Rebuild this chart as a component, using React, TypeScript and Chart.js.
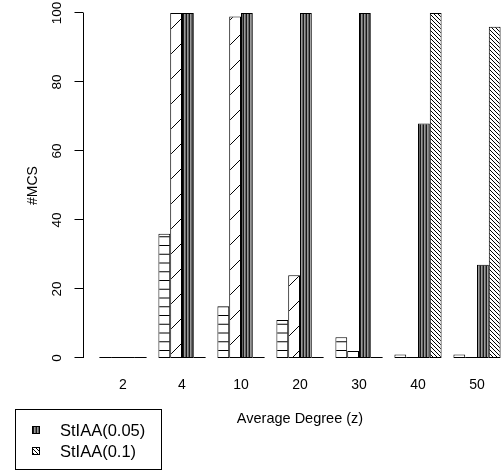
import React, { useEffect, useRef } from 'react';
import { Chart, registerables } from 'chart.js';

Chart.register(...registerables);

const categories = ['2', '4', '10', '20', '30', '40', '50'];
const seriesHoriz = [0, 36, 15, 11, 6, 1, 1];
const seriesSlash = [0, 100, 99, 24, 2, 0, 0];
const stiaa005 = [0, 100, 100, 100, 100, 68, 27];
const stiaa01 = [0, 0, 0, 0, 0, 100, 96];
const yTicks = [0, 20, 40, 60, 80, 100];
const legendLabels = ['StIAA(0.05)', 'StIAA(0.1)'];
const xTitle = 'Average Degree (z)';
const yTitle = '#MCS';

const FONT = '"Liberation Sans", Arial, Helvetica, sans-serif';

function makeTile(w: number, h: number, draw: (c: CanvasRenderingContext2D) => void): CanvasPattern {
  const cv = document.createElement('canvas');
  cv.width = w;
  cv.height = h;
  const c = cv.getContext('2d')!;
  draw(c);
  const ctx = document.createElement('canvas').getContext('2d')!;
  return ctx.createPattern(cv, 'repeat')!;
}

function makePatterns() {
  const hlines = makeTile(4, 35, (c) => {
    c.fillStyle = '#fff';
    c.fillRect(0, 0, 4, 35);
    c.strokeStyle = '#000';
    c.lineWidth = 1;
    for (let i = 0; i < 4; i++) {
      const y = i * 8.75 + 0.5;
      c.beginPath();
      c.moveTo(0, y);
      c.lineTo(4, y);
      c.stroke();
    }
  });
  const slash = makeTile(25, 25, (c) => {
    c.fillStyle = '#fff';
    c.fillRect(0, 0, 25, 25);
    c.strokeStyle = '#000';
    c.lineWidth = 1;
    c.beginPath();
    c.moveTo(-2, 27);
    c.lineTo(27, -2);
    c.moveTo(-2, 2);
    c.lineTo(2, -2);
    c.moveTo(23, 27);
    c.lineTo(27, 23);
    c.stroke();
  });
  const vlines = makeTile(3, 1, (c) => {
    c.fillStyle = '#1a1a1a';
    c.fillRect(0, 0, 1, 1);
    c.fillStyle = '#9a9a9a';
    c.fillRect(1, 0, 1, 1);
    c.fillStyle = '#666';
    c.fillRect(2, 0, 1, 1);
  });
  const bslash = makeTile(4, 4, (c) => {
    c.fillStyle = '#fff';
    c.fillRect(0, 0, 4, 4);
    c.strokeStyle = '#000';
    c.lineWidth = 1;
    c.beginPath();
    c.moveTo(-1, -1);
    c.lineTo(5, 5);
    c.moveTo(3, -1);
    c.lineTo(5, 1);
    c.moveTo(-1, 3);
    c.lineTo(1, 5);
    c.stroke();
  });
  return { hlines, slash, vlines, bslash };
}

export default function App() {
  const ref = useRef<HTMLCanvasElement>(null);

  useEffect(() => {
    const canvas = ref.current!;
    const p = makePatterns();

    const overlay = {
      id: 'rStyle',
      afterDatasetsDraw(chart: any) {
        const ctx: CanvasRenderingContext2D = chart.ctx;
        const yScale = chart.scales.y;
        const xScale = chart.scales.x;
        ctx.save();
        // zero-height bars drawn as a line
        ctx.strokeStyle = '#000';
        ctx.lineWidth = 1;
        chart.data.datasets.forEach((ds: any, di: number) => {
          const meta = chart.getDatasetMeta(di);
          meta.data.forEach((el: any, i: number) => {
            if (ds.data[i] === 0) {
              const y = Math.round(yScale.getPixelForValue(0)) - 0.5;
              ctx.beginPath();
              ctx.moveTo(el.x - el.width / 2, y);
              ctx.lineTo(el.x + el.width / 2, y);
              ctx.stroke();
            }
          });
        });

        // y axis
        const axX = 83.5;
        const y0 = yScale.getPixelForValue(yTicks[0]);
        const y1 = yScale.getPixelForValue(yTicks[yTicks.length - 1]);
        ctx.strokeStyle = '#000';
        ctx.beginPath();
        ctx.moveTo(axX, y0);
        ctx.lineTo(axX, y1);
        yTicks.forEach((t) => {
          const y = Math.round(yScale.getPixelForValue(t)) - 0.5;
          ctx.moveTo(axX, y);
          ctx.lineTo(axX - 9, y);
        });
        ctx.stroke();

        ctx.fillStyle = '#000';
        ctx.font = `13.5px ${FONT}`;
        ctx.textAlign = 'center';
        ctx.textBaseline = 'middle';
        yTicks.forEach((t) => {
          const y = yScale.getPixelForValue(t);
          ctx.save();
          ctx.translate(57, y);
          ctx.rotate(-Math.PI / 2);
          ctx.fillText(String(t), 0, 0);
          ctx.restore();
        });

        // y title
        ctx.save();
        ctx.font = `14px ${FONT}`;
        ctx.translate(33, (y0 + y1) / 2);
        ctx.rotate(-Math.PI / 2);
        ctx.fillText(yTitle, 0, 0);
        ctx.restore();

        // x tick labels
        ctx.font = `14px ${FONT}`;
        categories.forEach((c, i) => {
          ctx.fillText(c, xScale.getPixelForValue(i), 385);
        });

        // x title
        ctx.font = `14.5px ${FONT}`;
        ctx.fillText(xTitle, 300, 419);

        // legend
        ctx.lineWidth = 1;
        ctx.strokeStyle = '#000';
        ctx.strokeRect(15.5, 409.5, 146, 60);
        const pats = [p.vlines, p.bslash];
        ctx.font = `16.5px ${FONT}`;
        ctx.textAlign = 'left';
        legendLabels.forEach((lab, i) => {
          const cy = 430 + i * 21;
          ctx.fillStyle = pats[i];
          ctx.fillRect(32, cy - 4, 8, 8);
          ctx.strokeRect(32.5, cy - 3.5, 7, 7);
          ctx.fillStyle = '#000';
          ctx.fillText(lab, 60, cy + 1);
        });
        ctx.restore();
      },
    };

    const mk = (data: number[], bg: CanvasPattern) => ({
      data,
      backgroundColor: bg,
      borderColor: '#000',
      borderWidth: 1,
      borderSkipped: false,
      barPercentage: 1,
      categoryPercentage: 0.8,
    });

    const chart = new Chart(canvas, {
      type: 'bar',
      data: {
        labels: categories,
        datasets: [
          mk(seriesHoriz, p.hlines),
          mk(seriesSlash, p.slash),
          { ...mk(stiaa005, p.vlines), label: legendLabels[0] },
          { ...mk(stiaa01, p.bslash), label: legendLabels[1] },
        ] as any,
      },
      options: {
        responsive: false,
        animation: false,
        layout: { padding: { left: 93.5, right: 13.5, top: 13, bottom: 113 } },
        scales: {
          x: { display: false, offset: true },
          y: { display: false, min: 0, max: 100 },
        },
        plugins: { legend: { display: false }, tooltip: { enabled: false } },
      },
      plugins: [overlay],
    });
    return () => chart.destroy();
  }, []);

  return (
    <div style={{ position: 'fixed', left: 0, top: 0, width: 503, height: 471, overflow: 'hidden', background: '#fff' }}>
      <canvas ref={ref} width={520} height={471} style={{ width: 520, height: 471, display: 'block' }} />
    </div>
  );
}
